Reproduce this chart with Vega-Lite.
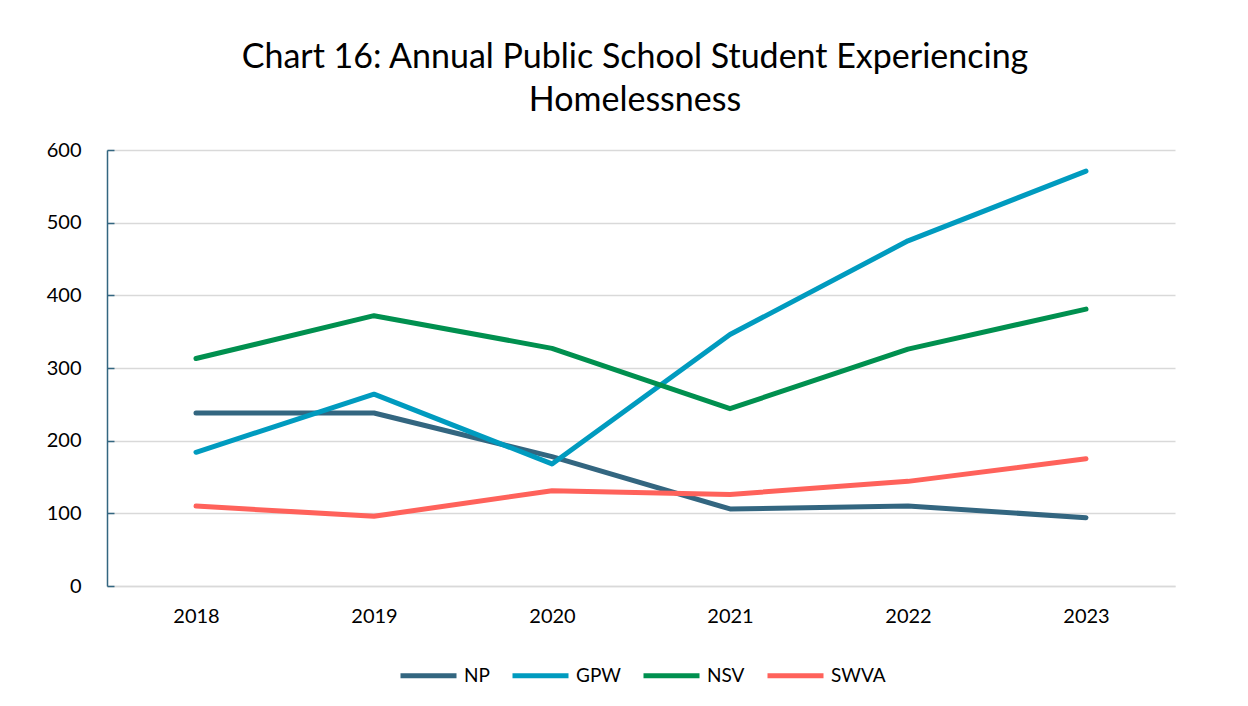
{
  "$schema": "https://vega.github.io/schema/vega-lite/v6.json",
  "width": 1068,
  "height": 436,
  "autosize": {"type": "none"},
  "padding": {"left": 107, "top": 150, "right": 73, "bottom": 120},
  "background": "white",
  "config": {
    "font": "Lato",
    "view": {"stroke": null},
    "axis": {"labelFont": "Lato", "labelFontSize": 20, "labelColor": "#000000"}
  },
  "title": {
    "text": ["Chart 16: Annual Public School Student Experiencing", "Homelessness"],
    "font": "Lato",
    "fontSize": 34,
    "fontWeight": "normal",
    "color": "#000000",
    "anchor": "middle",
    "lineHeight": 43,
    "offset": 22,
    "dx": -6
  },
  "data": {
    "values": [
      {"year": "2018", "region": "NP", "value": 238},
      {"year": "2019", "region": "NP", "value": 238},
      {"year": "2020", "region": "NP", "value": 178},
      {"year": "2021", "region": "NP", "value": 106},
      {"year": "2022", "region": "NP", "value": 110},
      {"year": "2023", "region": "NP", "value": 94},
      {"year": "2018", "region": "GPW", "value": 184},
      {"year": "2019", "region": "GPW", "value": 264},
      {"year": "2020", "region": "GPW", "value": 168},
      {"year": "2021", "region": "GPW", "value": 346},
      {"year": "2022", "region": "GPW", "value": 475},
      {"year": "2023", "region": "GPW", "value": 571},
      {"year": "2018", "region": "NSV", "value": 313},
      {"year": "2019", "region": "NSV", "value": 372},
      {"year": "2020", "region": "NSV", "value": 327},
      {"year": "2021", "region": "NSV", "value": 244},
      {"year": "2022", "region": "NSV", "value": 326},
      {"year": "2023", "region": "NSV", "value": 381},
      {"year": "2018", "region": "SWVA", "value": 110},
      {"year": "2019", "region": "SWVA", "value": 96},
      {"year": "2020", "region": "SWVA", "value": 131},
      {"year": "2021", "region": "SWVA", "value": 126},
      {"year": "2022", "region": "SWVA", "value": 144},
      {"year": "2023", "region": "SWVA", "value": 175}
    ]
  },
  "mark": {"type": "line", "strokeWidth": 5, "strokeCap": "round", "strokeJoin": "round"},
  "encoding": {
    "x": {
      "field": "year",
      "type": "ordinal",
      "scale": {"type": "point", "padding": 0.5},
      "axis": {
        "title": null,
        "labelAngle": 0,
        "ticks": false,
        "grid": false,
        "domainColor": "#d9d9d9",
        "domainWidth": 1.5,
        "labelPadding": 20
      }
    },
    "y": {
      "field": "value",
      "type": "quantitative",
      "scale": {"domain": [0, 600], "nice": false},
      "axis": {
        "title": null,
        "values": [0, 100, 200, 300, 400, 500, 600],
        "gridColor": "#d9d9d9",
        "gridWidth": 1.5,
        "domainColor": "#336680",
        "domainWidth": 1.5,
        "tickColor": "#336680",
        "tickWidth": 1.5,
        "tickSize": -7,
        "labelPadding": 33
      }
    },
    "color": {
      "field": "region",
      "type": "nominal",
      "scale": {
        "domain": ["NP", "GPW", "NSV", "SWVA"],
        "range": ["#336680", "#009BBF", "#00904F", "#FF625B"]
      },
      "legend": {
        "title": null,
        "orient": "none",
        "legendX": 291,
        "legendY": 495,
        "direction": "horizontal",
        "symbolType": "stroke",
        "symbolSize": 3136,
        "symbolStrokeWidth": 5,
        "labelFontSize": 19,
        "labelFont": "Lato",
        "labelColor": "#000000",
        "labelOffset": 5,
        "columnPadding": 12
      }
    }
  }
}
